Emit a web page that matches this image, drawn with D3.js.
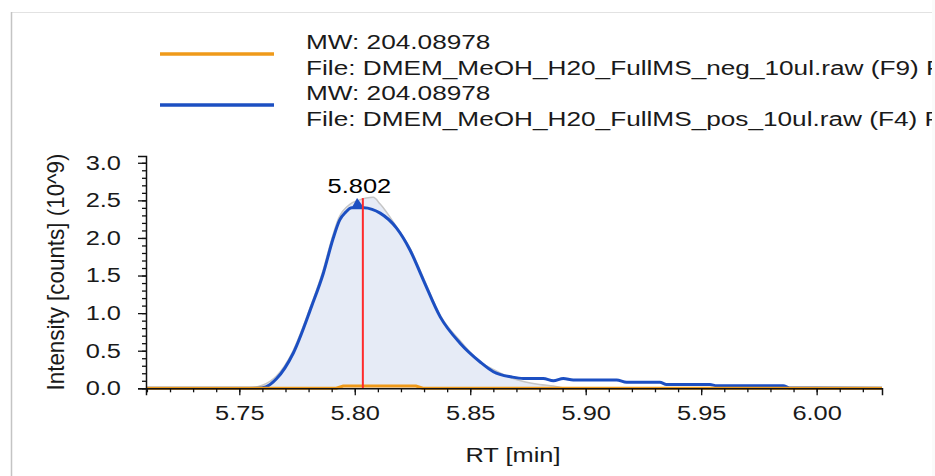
<!DOCTYPE html>
<html>
<head>
<meta charset="utf-8">
<script src="https://cdn.jsdelivr.net/npm/d3@7"></script>
<style>
  body { margin: 0; background: #fff; }
  svg text { font-family: "Liberation Sans", Arial, sans-serif; fill: #1a1a1a; }
</style>
</head>
<body>
<div id="chart"></div>
<script>
// Data (RT in min, intensity in 10^9 counts)
var posTrace = [
  [5.7096, 0], [5.758, 0], [5.7615, 0.02], [5.7662, 0.13], [5.7734, 0.47],
  [5.7813, 1.09], [5.7864, 1.53], [5.7905, 1.98], [5.7935, 2.24], [5.7960, 2.34],
  [5.7987, 2.40], [5.8040, 2.40],
  [5.8075, 2.38], [5.8110, 2.33], [5.8181, 2.13], [5.8239, 1.84], [5.8297, 1.44],
  [5.8370, 0.95], [5.8456, 0.60], [5.8543, 0.35], [5.8600, 0.22], [5.8680, 0.15],
  [5.8730, 0.13], [5.8816, 0.13], [5.8860, 0.10], [5.8903, 0.13], [5.8946, 0.11],
  [5.9134, 0.11], [5.9177, 0.08], [5.9321, 0.08], [5.9350, 0.05], [5.9538, 0.05],
  [5.9567, 0.035], [5.9855, 0.035], [5.9884, 0.005], [6.0283, 0]
];
var rawTrace = [
  [5.7096, 0], [5.750, 0], [5.756, 0.01], [5.760, 0.04], [5.766, 0.16], [5.773, 0.48],
  [5.781, 1.10], [5.786, 1.54], [5.790, 1.98], [5.793, 2.26], [5.798, 2.45], [5.8015, 2.50],
  [5.805, 2.53], [5.808, 2.54], [5.811, 2.45], [5.818, 2.15], [5.824, 1.86],
  [5.830, 1.45], [5.837, 0.97], [5.846, 0.62], [5.854, 0.36], [5.860, 0.25],
  [5.866, 0.16], [5.873, 0.09], [5.880, 0.05], [5.886, 0.03], [5.892, 0], [6.0283, 0]
];
var negTrace = [
  [5.7096, 0], [5.7920, 0], [5.7950, 0.03], [5.8265, 0.03], [5.8295, 0], [6.0283, 0]
];
var apexMark = [[5.7987, 2.40], [5.8010, 2.53], [5.8040, 2.40]];
var peakRT = 5.8035, peakTop = 2.53, peakLabel = "5.802", peakLabelRT = 5.802;

var xTicks = [5.75, 5.80, 5.85, 5.90, 5.95, 6.00];
var xTickLabels = ["5.75", "5.80", "5.85", "5.90", "5.95", "6.00"];
var yTicks = [0, 0.5, 1.0, 1.5, 2.0, 2.5, 3.0];
var yTickLabels = ["0.0", "0.5", "1.0", "1.5", "2.0", "2.5", "3.0"];

var legendItems = [
  {color: "#ef9a1a", mw: "MW: 204.08978", file: "File: DMEM_MeOH_H20_FullMS_neg_10ul.raw (F9) F9"},
  {color: "#1c4fc2", mw: "MW: 204.08978", file: "File: DMEM_MeOH_H20_FullMS_pos_10ul.raw (F4) F7"}
];

var SX = 1.27;   // glyphs in the source are drawn horizontally stretched
var SXL = 1.31;  // legend text is a touch wider still

var svg = d3.select("#chart").append("svg")
    .attr("width", 935)
    .attr("height", 476);

// frame
svg.append("rect").attr("x", 932).attr("y", 0).attr("width", 3).attr("height", 476).attr("fill", "#fafafa");
svg.append("line").attr("x1", 11).attr("x2", 932).attr("y1", 12.5).attr("y2", 12.5)
    .style("stroke", "#e2e2e2").style("stroke-width", 1);
svg.append("line").attr("x1", 11.5).attr("x2", 11.5).attr("y1", 12).attr("y2", 476)
    .style("stroke", "#c4c4c4").style("stroke-width", 1.5);

// Scales
var xScale = d3.scaleLinear().domain([5.7096, 6.0283]).range([146, 882]);
var yScale = d3.scaleLinear().domain([0, 3.09]).range([388.3, 156]);

svg.append("clipPath").attr("id", "clipAll")
  .append("rect").attr("x", 0).attr("y", 0).attr("width", 932).attr("height", 476);

// Legend
var legend = svg.append("g").attr("clip-path", "url(#clipAll)");
legendItems.forEach(function(d, i) {
    var y0 = 49 + i * 51;
    legend.append("line")
        .attr("x1", 160).attr("x2", 274)
        .attr("y1", y0 + 5).attr("y2", y0 + 5)
        .style("stroke", d.color).style("stroke-width", 3.5);
    legend.append("text")
        .attr("transform", "translate(306," + y0 + ") scale(" + SXL + ",1)")
        .style("font-size", "20px")
        .text(d.mw);
    legend.append("text")
        .attr("transform", "translate(306," + (y0 + 25.5) + ") scale(" + SXL + ",1)")
        .style("font-size", "20px")
        .text(d.file);
});

// line and area generators
var line = d3.line()
    .curve(d3.curveMonotoneX)
    .x(function(d) { return xScale(d[0]); })
    .y(function(d) { return yScale(d[1]); });
var area = d3.area()
    .curve(d3.curveMonotoneX)
    .x(function(d) { return xScale(d[0]); })
    .y0(yScale(0))
    .y1(function(d) { return yScale(d[1]); });
var poly = d3.line()
    .x(function(d) { return xScale(d[0]); })
    .y(function(d) { return yScale(d[1]); });

svg.append("path")
    .datum(rawTrace)
    .attr("d", area)
    .style("fill", "#e6ebf6");
svg.append("path")
    .datum(rawTrace)
    .attr("d", line)
    .style("fill", "none")
    .style("stroke", "#c6c6c6")
    .style("stroke-width", 1.5);

svg.append("path")
    .datum(posTrace)
    .attr("d", line)
    .style("fill", "none")
    .style("stroke", legendItems[1].color)
    .style("stroke-width", 3)
    .style("stroke-linejoin", "round");

svg.append("path")
    .datum(apexMark)
    .attr("d", poly)
    .style("fill", legendItems[1].color)
    .style("stroke", "none");

svg.append("path")
    .datum(negTrace)
    .attr("d", poly)
    .style("fill", "none")
    .style("stroke", legendItems[0].color)
    .style("stroke-width", 3);

// peak marker
svg.append("line")
    .attr("x1", xScale(peakRT)).attr("x2", xScale(peakRT))
    .attr("y1", yScale(0)).attr("y2", yScale(peakTop))
    .style("stroke", "#ff2a2a").style("stroke-width", 2);
svg.append("text")
    .attr("transform", "translate(" + xScale(peakLabelRT) + "," + (yScale(peakTop) - 5) + ") scale(" + SX + ",1)")
    .attr("text-anchor", "middle")
    .style("font-size", "20px")
    .style("fill", "#000")
    .text(peakLabel);

// Axes
var xMinor = d3.range(571, 603).map(function(v) { return v / 100; });
var yMinor = d3.range(0, 31).map(function(v) { return v / 10; });

svg.append("g")
    .attr("transform", "translate(0,388.3)")
    .call(d3.axisBottom(xScale).tickValues(xMinor).tickSize(4).tickFormat(""))
    .call(function(g) { g.select(".domain").remove(); });
var gx = svg.append("g")
    .attr("transform", "translate(0,388.3)")
    .call(d3.axisBottom(xScale).tickValues(xTicks).tickSize(7)
        .tickFormat(function(d, i) { return xTickLabels[i]; }));
gx.selectAll("text")
    .attr("y", 32).attr("dy", 0)
    .attr("transform", "scale(" + SX + ",1)")
    .style("font-size", "20px");

svg.append("g")
    .attr("transform", "translate(146,0)")
    .call(d3.axisLeft(yScale).tickValues(yMinor).tickSize(4).tickFormat(""))
    .call(function(g) { g.select(".domain").remove(); });
var gy = svg.append("g")
    .attr("transform", "translate(146,0)")
    .call(d3.axisLeft(yScale).tickValues(yTicks).tickSize(8)
        .tickFormat(function(d, i) { return yTickLabels[i]; }));
gy.selectAll("text")
    .attr("x", -25 / SX)
    .attr("transform", "scale(" + SX + ",1)")
    .style("font-size", "20px");

svg.selectAll(".domain").style("stroke", "#111").style("stroke-width", 1.5);
svg.selectAll(".tick line").style("stroke", "#111").style("stroke-width", 1.3);

// axis titles
svg.append("text")
    .attr("transform", "translate(513,462) scale(" + SX + ",1)")
    .attr("text-anchor", "middle")
    .style("font-size", "20px")
    .text("RT [min]");
svg.append("text")
    .attr("transform", "translate(64,272) scale(1.2,1.12) rotate(-90)")
    .attr("text-anchor", "middle")
    .style("font-size", "20px")
    .text("Intensity [counts] (10^9)");
</script>
</body>
</html>
